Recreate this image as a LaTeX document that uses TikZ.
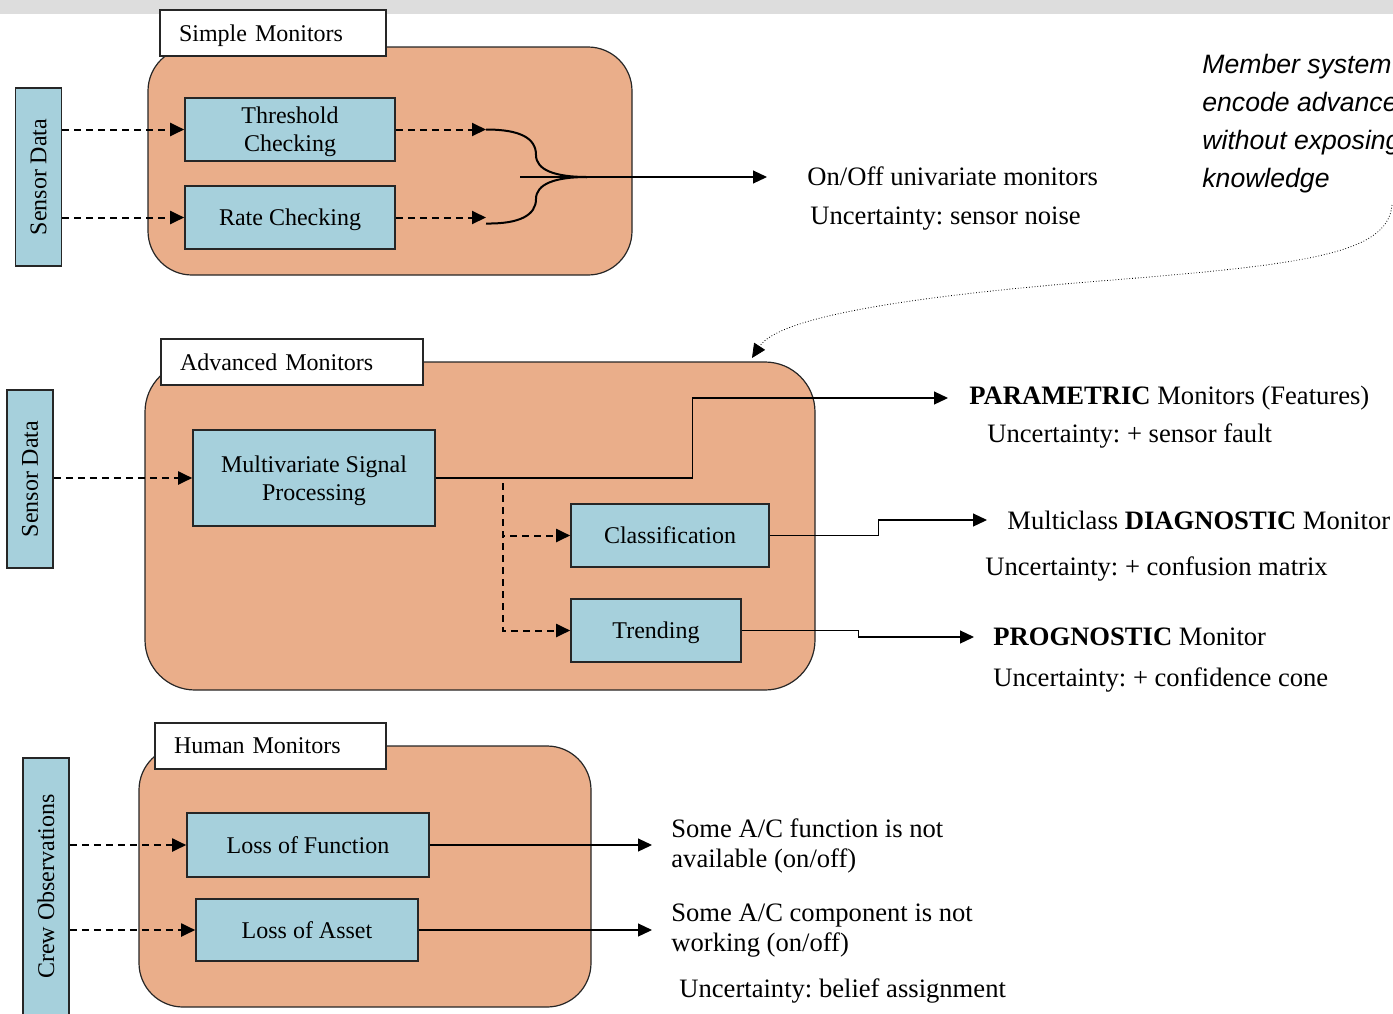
\documentclass[tikz,border=0pt]{standalone}
\usepackage{fontspec}
\setmainfont{Liberation Serif}
\newfontfamily\notefont{Liberation Sans}
\usetikzlibrary{arrows.meta,positioning}
\definecolor{Panel}{HTML}{EAAE8A}
\definecolor{Cell}{HTML}{A6D0DC}
\definecolor{Edge}{HTML}{262626}
\definecolor{Band}{HTML}{DDDDDD}
\frenchspacing

\begin{document}
\begin{tikzpicture}[x=0.5pt,y=-0.5pt,>={Triangle[length=7pt,width=6.5pt]}]
  \tikzset{
    panel/.style={draw=Edge,line width=0.6pt,fill=Panel,rounded corners=#1,inner sep=0pt},
    titlebox/.style={draw=Edge,line width=0.6pt,fill=white,minimum height=23pt,
      inner xsep=9.5pt,inner ysep=0pt,text depth=0pt,align=left,font=\fontsize{12}{14}\selectfont},
    cellbox/.style={draw=Edge,line width=0.8pt,fill=Cell,align=center,inner sep=0pt,
      text depth=0pt,font=\fontsize{12}{14}\selectfont},
    sidebox/.style={draw=Edge,line width=0.8pt,fill=Cell,inner sep=0pt,
      minimum width=23pt,font=\fontsize{12}{14}\selectfont},
    outtext/.style={anchor=west,inner sep=0pt,align=left,font=\fontsize{13.3}{15}\selectfont},
    feed/.style={->,line width=1pt,dash pattern=on 3.5pt off 2.5pt},
    result/.style={->,line width=0.6pt},
    fork/.style={line width=1pt},
    hint/.style={->,densely dotted,line width=0.4pt}
  }
  \useasboundingbox (0,0) rectangle (1393,1013);
  \clip (0,0) rectangle (1393,1013);
  \fill[Band] (0,0) rectangle (1393,14);

  \node[panel=22pt,minimum width=242pt,minimum height=114pt] (simple) at (390,161) {};
  \node[panel=25pt,minimum width=335pt,minimum height=164pt] (advanced) at (480,526) {};
  \node[panel=22pt,minimum width=226pt,minimum height=130.5pt] (human) at (365,876.5) {};

  \node[titlebox,text width=94pt] (simpletitle) at (273,33) {Simple Monitors};
  \node[titlebox,text width=112pt] (advtitle) at (292,362) {Advanced Monitors};
  \node[titlebox,text width=96.5pt] (humantitle) at (270.5,746) {Human Monitors};

  \node[sidebox,minimum height=89pt] (sens1) at (38.5,177) {\rotatebox{90}{Sensor Data}};
  \node[sidebox,minimum height=89pt] (sens2) at (30,479) {\rotatebox{90}{Sensor Data}};
  \node[sidebox,minimum height=128.5pt] (crew) at (46,886.5) {\rotatebox{90}{Crew Observations}};

  \node[cellbox,minimum width=105pt,minimum height=31.5pt] (thr) at (290,129.5) {Threshold\\Checking};
  \node[cellbox,minimum width=105pt,minimum height=31.5pt] (rate) at (290,217.5) {Rate Checking};
  \node[cellbox,minimum width=121pt,minimum height=48pt] (msp) at (314,478) {Multivariate Signal\\Processing};
  \node[cellbox,minimum width=99pt,minimum height=31.5pt] (cls) at (670,535.5) {Classification};
  \node[cellbox,minimum width=85pt,minimum height=31.5pt] (trend) at (656,630.5) {Trending};
  \node[cellbox,minimum width=121pt,minimum height=32pt] (lof) at (308,845) {Loss of Function};
  \node[cellbox,minimum width=111pt,minimum height=31pt] (loa) at (307,930) {Loss of Asset};

  \node[outtext] (onoff) at (807,176) {On/Off univariate monitors};
  \node[outtext] (noise) at (810,219) {Uncertainty: sensor noise};
  \node[outtext] (param) at (969,398) {\textbf{PARAMETRIC} Monitors (Features)};
  \node[outtext] (fault) at (987,436) {Uncertainty: + sensor fault};
  \node[outtext] (diag) at (1007,520) {Multiclass \textbf{DIAGNOSTIC} Monitor};
  \node[outtext] (confusion) at (985,569) {Uncertainty: + confusion matrix};
  \node[outtext] (prog) at (993,637) {\textbf{PROGNOSTIC} Monitor};
  \node[outtext] (cone) at (993,680) {Uncertainty: + confidence cone};
  \node[outtext] (func) at (671,846) {Some A/C function is not\\available (on/off)};
  \node[outtext] (comp) at (671,931) {Some A/C component is not\\working (on/off)};
  \node[outtext] (belief) at (679,991) {Uncertainty: belief assignment};
  \node[anchor=west,inner sep=0pt,align=left,font=\notefont\itshape\fontsize{13.3}{19}\selectfont]
    (note) at (1202,124) {Member system\\encode advance\\without exposing\\knowledge};

  \coordinate (thrtip) at (486,129.5);
  \coordinate (ratetip) at (486,217.5);
  \coordinate (merge) at (587,177);
  \coordinate (fork) at (520,177);
  \coordinate (notefoot) at (1392,205);
  \coordinate (advtop) at (752,358);

  \draw[feed] (sens1.east |- thr.west) -- (thr.west);
  \draw[feed] (sens1.east |- rate.west) -- (rate.west);
  \draw[feed] (thr.east) -- (thrtip);
  \draw[feed] (rate.east) -- (ratetip);
  \draw[fork] (thrtip) .. controls (520,129.5) and (536,138) .. (536,155)
    .. controls (536,170) and (555,177) .. (merge);
  \draw[fork] ([yshift=-3pt]ratetip) .. controls (520,224) and (536,215) .. (536,199)
    .. controls (536,184) and (555,177) .. (merge);
  \draw[result,shorten >=20pt] (fork) -- (fork -| onoff.west);

  \draw[feed] (sens2.east |- msp.west) -- (msp.west);
  \draw[result,shorten >=10.5pt] (msp.east) -- ++(257,0) |- (param.west);
  \draw[feed] (msp.east) -- ++(67,0) |- (cls.west);
  \draw[feed] (msp.east) -- ++(67,0) |- (trend.west);
  \draw[result,shorten >=10pt] (cls.east) -- ++(109,0) |- (diag.west);
  \draw[result,shorten >=9.5pt] (trend.east) -- ++(117,0) |- (prog.west);

  \draw[feed] (crew.east |- lof.west) -- (lof.west);
  \draw[feed] (crew.east |- loa.west) -- (loa.west);
  \draw[result,shorten >=9.5pt] (lof.east) -- (lof.east -| func.west);
  \draw[result,shorten >=9.5pt] (loa.east) -- (loa.east -| comp.west);

  \draw[hint] (notefoot) .. controls (1388,255) and (1300,265) .. (1100,281)
    .. controls (900,297) and (778,318) .. (advtop);
\end{tikzpicture}
\end{document}
